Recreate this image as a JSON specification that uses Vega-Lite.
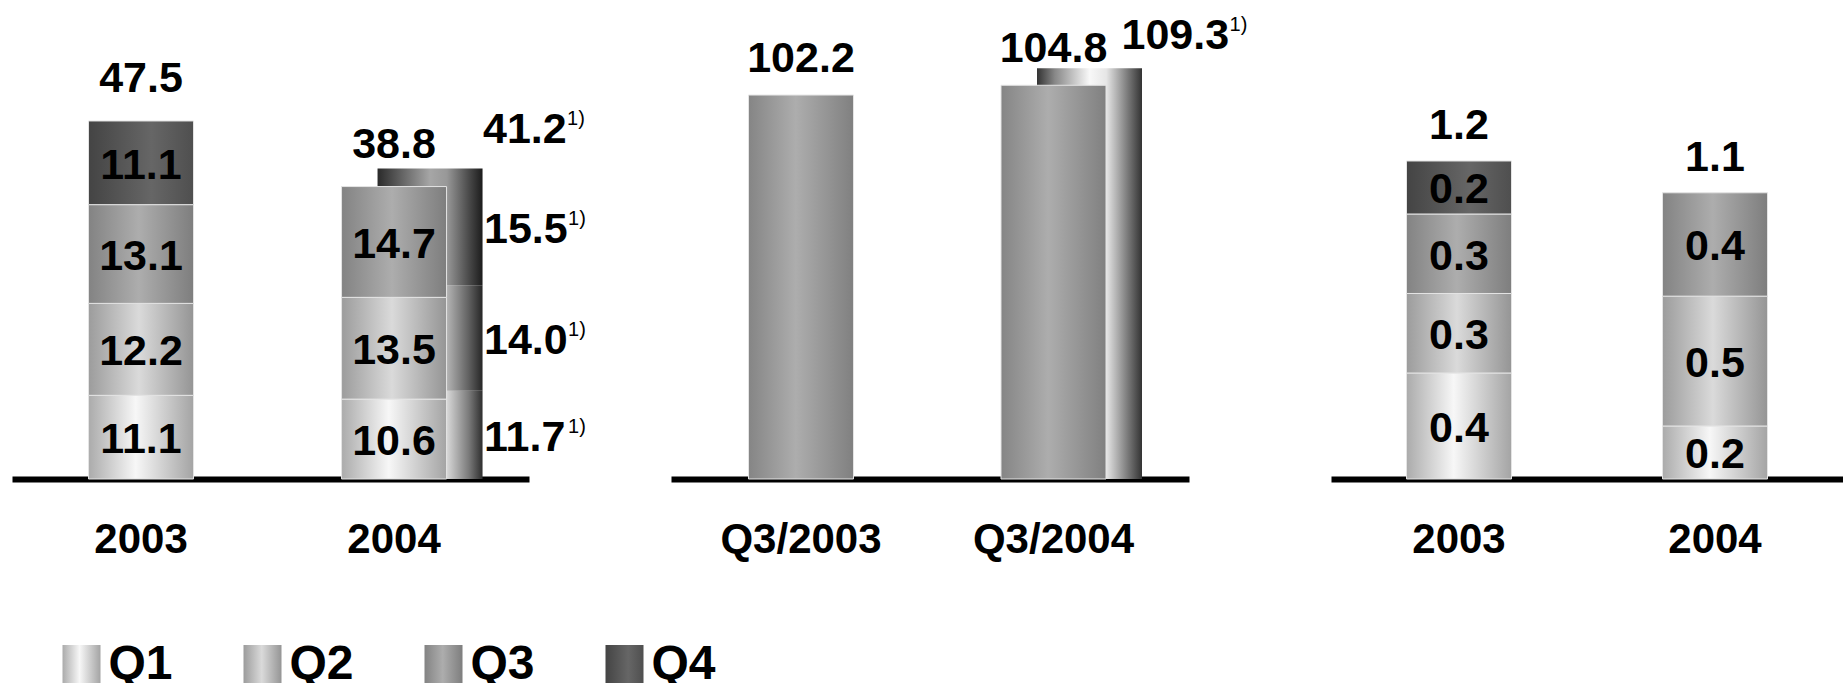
{
  "$schema": "https://vega.github.io/schema/vega-lite/v6.json",
  "background": "white",
  "padding": {"left": 12, "top": 0, "right": 0, "bottom": 0},
  "columns": 3,
  "align": "none",
  "bounds": "flush",
  "spacing": {"row": 166, "column": 142},
  "datasets": {
    "sales": [
      {"year": "2003", "basis": "reported", "quarter": "Q1", "value": 11.1},
      {"year": "2003", "basis": "reported", "quarter": "Q2", "value": 12.2},
      {"year": "2003", "basis": "reported", "quarter": "Q3", "value": 13.1},
      {"year": "2003", "basis": "reported", "quarter": "Q4", "value": 11.1},
      {"year": "2004", "basis": "reported", "quarter": "Q1", "value": 10.6},
      {"year": "2004", "basis": "reported", "quarter": "Q2", "value": 13.5},
      {"year": "2004", "basis": "reported", "quarter": "Q3", "value": 14.7},
      {"year": "2004", "basis": "adjusted", "quarter": "Q1", "value": 11.7},
      {"year": "2004", "basis": "adjusted", "quarter": "Q2", "value": 14.0},
      {"year": "2004", "basis": "adjusted", "quarter": "Q3", "value": 15.5}
    ],
    "quarterly": [
      {"period": "Q3/2003", "basis": "reported", "value": 102.2},
      {"period": "Q3/2004", "basis": "reported", "value": 104.8},
      {"period": "Q3/2004", "basis": "adjusted", "value": 109.3}
    ],
    "small": [
      {"year": "2003", "quarter": "Q1", "value": 0.4},
      {"year": "2003", "quarter": "Q2", "value": 0.3},
      {"year": "2003", "quarter": "Q3", "value": 0.3},
      {"year": "2003", "quarter": "Q4", "value": 0.2},
      {"year": "2004", "quarter": "Q1", "value": 0.2},
      {"year": "2004", "quarter": "Q2", "value": 0.49},
      {"year": "2004", "quarter": "Q3", "value": 0.39}
    ],
    "quarters": [
      {"quarter": "Q1"}, {"quarter": "Q2"}, {"quarter": "Q3"}, {"quarter": "Q4"}
    ]
  },
  "concat": [
    {
      "width": 517,
      "height": 479,
      "data": {"name": "sales"},
      "encoding": {
        "x": {"field": "year", "type": "nominal", "title": null,
              "scale": {"domain": ["2003", "2004"], "paddingInner": 0, "paddingOuter": 0.0217, "align": 0.23}}
      },
      "layer": [
        {
          "transform": [{"filter": "datum.basis === 'adjusted'"}],
          "mark": {"type": "bar", "width": 105, "xOffset": 36},
          "encoding": {
            "y": {"field": "value", "type": "quantitative", "stack": "zero", "axis": null,
                  "scale": {"domain": [0, 63.55], "nice": false}},
            "detail": {"field": "quarter"},
            "order": {"field": "quarter", "type": "ordinal"},
            "fill": {
              "condition": [
                {"test": "datum.quarter === 'Q1'", "value": {"gradient": "linear", "x1": 0, "y1": 0, "x2": 1, "y2": 0,
                  "stops": [{"offset": 0, "color": "#3a3a3a"}, {"offset": 0.5, "color": "#e6e6e6"}, {"offset": 0.66, "color": "#d8d8d8"}, {"offset": 0.87, "color": "#7a7a7a"}, {"offset": 1, "color": "#2e2e2e"}]}},
                {"test": "datum.quarter === 'Q2'", "value": {"gradient": "linear", "x1": 0, "y1": 0, "x2": 1, "y2": 0,
                  "stops": [{"offset": 0, "color": "#333333"}, {"offset": 0.5, "color": "#c2c2c2"}, {"offset": 0.66, "color": "#b4b4b4"}, {"offset": 0.87, "color": "#606060"}, {"offset": 1, "color": "#262626"}]}}
              ],
              "value": {"gradient": "linear", "x1": 0, "y1": 0, "x2": 1, "y2": 0,
                "stops": [{"offset": 0, "color": "#2a2a2a"}, {"offset": 0.5, "color": "#a6a6a6"}, {"offset": 0.66, "color": "#989898"}, {"offset": 0.87, "color": "#4a4a4a"}, {"offset": 1, "color": "#1c1c1c"}]}
            }
          }
        },
        {
          "transform": [{"filter": "datum.basis === 'reported'"}],
          "mark": {"type": "bar", "width": 105, "stroke": "#e4e4e4", "strokeWidth": 1},
          "encoding": {
            "y": {"field": "value", "type": "quantitative", "stack": "zero", "axis": null},
            "detail": {"field": "quarter"},
            "order": {"field": "quarter", "type": "ordinal"},
            "fill": {
              "condition": [
                {"test": "datum.quarter === 'Q1'", "value": {"gradient": "linear", "x1": 0, "y1": 0, "x2": 1, "y2": 0,
                  "stops": [{"offset": 0, "color": "#ababab"}, {"offset": 0.45, "color": "#f7f7f7"}, {"offset": 1, "color": "#a4a4a4"}]}},
                {"test": "datum.quarter === 'Q2'", "value": {"gradient": "linear", "x1": 0, "y1": 0, "x2": 1, "y2": 0,
                  "stops": [{"offset": 0, "color": "#9c9c9c"}, {"offset": 0.48, "color": "#dadada"}, {"offset": 1, "color": "#959595"}]}},
                {"test": "datum.quarter === 'Q3'", "value": {"gradient": "linear", "x1": 0, "y1": 0, "x2": 1, "y2": 0,
                  "stops": [{"offset": 0, "color": "#838383"}, {"offset": 0.48, "color": "#adadad"}, {"offset": 1, "color": "#7e7e7e"}]}}
              ],
              "value": {"gradient": "linear", "x1": 0, "y1": 0, "x2": 1, "y2": 0,
                "stops": [{"offset": 0, "color": "#444444"}, {"offset": 0.6, "color": "#666666"}, {"offset": 1, "color": "#4f4f4f"}]}
            }
          }
        },
        {
          "transform": [
            {"filter": "datum.basis === 'reported'"},
            {"stack": "value", "groupby": ["year"], "sort": [{"field": "quarter", "order": "ascending"}], "as": ["v0", "v1"]},
            {"fold": ["v0", "v1"], "as": ["edge", "pos"]}
          ],
          "mark": {"type": "text", "baseline": "middle", "dy": 3},
          "encoding": {
            "y": {"aggregate": "mean", "field": "pos", "type": "quantitative", "axis": null},
            "text": {"field": "value", "type": "quantitative", "format": ".1f"},
            "detail": {"field": "quarter"}
          }
        },
        {
          "transform": [
            {"filter": "datum.basis === 'adjusted'"},
            {"stack": "value", "groupby": ["year"], "sort": [{"field": "quarter", "order": "ascending"}], "as": ["v0", "v1"]},
            {"fold": ["v0", "v1"], "as": ["edge", "pos"]}
          ],
          "mark": {"type": "text", "baseline": "middle", "align": "left", "xOffset": 36, "dx": 54, "dy": 3},
          "encoding": {
            "y": {"aggregate": "mean", "field": "pos", "type": "quantitative", "axis": null},
            "text": {"field": "value", "type": "quantitative", "format": ".1f"},
            "detail": {"field": "quarter"}
          }
        },
        {
          "transform": [
            {"filter": "datum.basis === 'adjusted'"},
            {"stack": "value", "groupby": ["year"], "sort": [{"field": "quarter", "order": "ascending"}], "as": ["v0", "v1"]},
            {"fold": ["v0", "v1"], "as": ["edge", "pos"]}
          ],
          "mark": {"type": "text", "baseline": "top", "align": "left", "xOffset": 36, "dx": 138, "dy": -18, "fontSize": 20, "fontWeight": "normal"},
          "encoding": {
            "y": {"aggregate": "mean", "field": "pos", "type": "quantitative", "axis": null},
            "text": {"value": "1)"},
            "detail": {"field": "quarter"}
          }
        },
        {
          "transform": [{"filter": "datum.basis === 'reported'"}],
          "mark": {"type": "text", "baseline": "middle", "dy": -42},
          "encoding": {
            "y": {"aggregate": "sum", "field": "value", "type": "quantitative", "axis": null},
            "text": {"aggregate": "sum", "field": "value", "type": "quantitative", "format": ".1f"}
          }
        },
        {
          "transform": [{"filter": "datum.basis === 'adjusted'"}],
          "mark": {"type": "text", "baseline": "middle", "align": "left", "xOffset": 36, "dx": 53, "dy": -38},
          "encoding": {
            "y": {"aggregate": "sum", "field": "value", "type": "quantitative", "axis": null},
            "text": {"aggregate": "sum", "field": "value", "type": "quantitative", "format": ".1f"}
          }
        },
        {
          "transform": [{"filter": "datum.basis === 'adjusted'"}],
          "mark": {"type": "text", "baseline": "top", "align": "left", "xOffset": 36, "dx": 137, "dy": -59, "fontSize": 20, "fontWeight": "normal"},
          "encoding": {
            "y": {"aggregate": "sum", "field": "value", "type": "quantitative", "axis": null},
            "text": {"value": "1)"}
          }
        }
      ]
    },
    {
      "width": 518,
      "height": 479,
      "data": {"name": "quarterly"},
      "encoding": {
        "x": {"field": "period", "type": "nominal", "title": null,
              "scale": {"domain": ["Q3/2003", "Q3/2004"], "paddingInner": 0, "paddingOuter": 0.0257, "align": 0.288}}
      },
      "layer": [
        {
          "transform": [{"filter": "datum.basis === 'adjusted'"}],
          "mark": {"type": "bar", "width": 105, "xOffset": 36},
          "encoding": {
            "y": {"field": "value", "type": "quantitative", "axis": null,
                  "scale": {"domain": [0, 127.5], "nice": false}},
            "fill": {"value": {"gradient": "linear", "x1": 0, "y1": 0, "x2": 1, "y2": 0,
              "stops": [{"offset": 0, "color": "#333333"}, {"offset": 0.17, "color": "#888888"}, {"offset": 0.5, "color": "#f8f8f8"}, {"offset": 0.66, "color": "#e6e6e6"}, {"offset": 0.87, "color": "#777777"}, {"offset": 1, "color": "#333333"}]}}
          }
        },
        {
          "transform": [{"filter": "datum.basis === 'reported'"}],
          "mark": {"type": "bar", "width": 105, "stroke": "#e4e4e4", "strokeWidth": 1},
          "encoding": {
            "y": {"field": "value", "type": "quantitative", "axis": null},
            "fill": {"value": {"gradient": "linear", "x1": 0, "y1": 0, "x2": 1, "y2": 0,
              "stops": [{"offset": 0, "color": "#858585"}, {"offset": 0.45, "color": "#adadad"}, {"offset": 1, "color": "#808080"}]}}
          }
        },
        {
          "transform": [{"filter": "datum.basis === 'reported'"}],
          "mark": {"type": "text", "baseline": "middle", "dy": -36},
          "encoding": {
            "y": {"field": "value", "type": "quantitative", "axis": null},
            "text": {"field": "value", "type": "quantitative", "format": ".1f"}
          }
        },
        {
          "transform": [{"filter": "datum.basis === 'adjusted'"}],
          "mark": {"type": "text", "baseline": "middle", "align": "left", "xOffset": 36, "dx": 32, "dy": -32},
          "encoding": {
            "y": {"field": "value", "type": "quantitative", "axis": null},
            "text": {"field": "value", "type": "quantitative", "format": ".1f"}
          }
        },
        {
          "transform": [{"filter": "datum.basis === 'adjusted'"}],
          "mark": {"type": "text", "baseline": "top", "align": "left", "xOffset": 36, "dx": 140, "dy": -53, "fontSize": 20, "fontWeight": "normal"},
          "encoding": {
            "y": {"field": "value", "type": "quantitative", "axis": null},
            "text": {"value": "1)"}
          }
        }
      ]
    },
    {
      "width": 512,
      "height": 479,
      "data": {"name": "small"},
      "encoding": {
        "x": {"field": "year", "type": "nominal", "title": null,
              "scale": {"domain": ["2003", "2004"], "paddingInner": 0, "paddingOuter": 0}}
      },
      "layer": [
        {
          "mark": {"type": "bar", "width": 105, "stroke": "#e4e4e4", "strokeWidth": 1},
          "encoding": {
            "y": {"field": "value", "type": "quantitative", "stack": "zero", "axis": null,
                  "scale": {"domain": [0, 1.8075], "nice": false}},
            "detail": {"field": "quarter"},
            "order": {"field": "quarter", "type": "ordinal"},
            "fill": {
              "condition": [
                {"test": "datum.quarter === 'Q1'", "value": {"gradient": "linear", "x1": 0, "y1": 0, "x2": 1, "y2": 0,
                  "stops": [{"offset": 0, "color": "#ababab"}, {"offset": 0.45, "color": "#f7f7f7"}, {"offset": 1, "color": "#a4a4a4"}]}},
                {"test": "datum.quarter === 'Q2'", "value": {"gradient": "linear", "x1": 0, "y1": 0, "x2": 1, "y2": 0,
                  "stops": [{"offset": 0, "color": "#9c9c9c"}, {"offset": 0.48, "color": "#dadada"}, {"offset": 1, "color": "#959595"}]}},
                {"test": "datum.quarter === 'Q3'", "value": {"gradient": "linear", "x1": 0, "y1": 0, "x2": 1, "y2": 0,
                  "stops": [{"offset": 0, "color": "#838383"}, {"offset": 0.48, "color": "#adadad"}, {"offset": 1, "color": "#7e7e7e"}]}}
              ],
              "value": {"gradient": "linear", "x1": 0, "y1": 0, "x2": 1, "y2": 0,
                "stops": [{"offset": 0, "color": "#444444"}, {"offset": 0.6, "color": "#666666"}, {"offset": 1, "color": "#4f4f4f"}]}
            }
          }
        },
        {
          "transform": [
            {"stack": "value", "groupby": ["year"], "sort": [{"field": "quarter", "order": "ascending"}], "as": ["v0", "v1"]},
            {"fold": ["v0", "v1"], "as": ["edge", "pos"]}
          ],
          "mark": {"type": "text", "baseline": "middle", "dy": 3},
          "encoding": {
            "y": {"aggregate": "mean", "field": "pos", "type": "quantitative", "axis": null},
            "text": {"field": "value", "type": "quantitative", "format": ".1f"},
            "detail": {"field": "quarter"}
          }
        },
        {
          "mark": {"type": "text", "baseline": "middle", "dy": -35},
          "encoding": {
            "y": {"aggregate": "sum", "field": "value", "type": "quantitative", "axis": null},
            "text": {"aggregate": "sum", "field": "value", "type": "quantitative", "format": ".1f"}
          }
        }
      ]
    },
    {
      "width": 500,
      "height": 40,
      "data": {"name": "quarters"},
      "encoding": {
        "x": {"field": "quarter", "type": "nominal", "axis": null,
              "scale": {"domain": ["Q1", "Q2", "Q3", "Q4"], "range": [0, 724], "paddingInner": 0, "paddingOuter": 0}}
      },
      "layer": [
        {
          "mark": {"type": "bar", "width": 38, "xOffset": -21},
          "encoding": {
            "fill": {
              "condition": [
                {"test": "datum.quarter === 'Q1'", "value": {"gradient": "linear", "x1": 0, "y1": 0, "x2": 1, "y2": 0,
                  "stops": [{"offset": 0, "color": "#ababab"}, {"offset": 0.45, "color": "#f7f7f7"}, {"offset": 1, "color": "#a4a4a4"}]}},
                {"test": "datum.quarter === 'Q2'", "value": {"gradient": "linear", "x1": 0, "y1": 0, "x2": 1, "y2": 0,
                  "stops": [{"offset": 0, "color": "#9c9c9c"}, {"offset": 0.48, "color": "#dadada"}, {"offset": 1, "color": "#959595"}]}},
                {"test": "datum.quarter === 'Q3'", "value": {"gradient": "linear", "x1": 0, "y1": 0, "x2": 1, "y2": 0,
                  "stops": [{"offset": 0, "color": "#838383"}, {"offset": 0.48, "color": "#adadad"}, {"offset": 1, "color": "#7e7e7e"}]}}
              ],
              "value": {"gradient": "linear", "x1": 0, "y1": 0, "x2": 1, "y2": 0,
                "stops": [{"offset": 0, "color": "#444444"}, {"offset": 0.6, "color": "#666666"}, {"offset": 1, "color": "#4f4f4f"}]}
            }
          }
        },
        {
          "mark": {"type": "text", "align": "left", "baseline": "middle", "fontSize": 48, "xOffset": -21, "dx": 27},
          "encoding": {
            "text": {"field": "quarter", "type": "nominal"}
          }
        }
      ]
    }
  ],
  "config": {
    "view": {"stroke": null},
    "font": "Liberation Sans",
    "text": {"font": "Liberation Sans", "fontSize": 43, "fontWeight": "bold", "color": "black"},
    "axisX": {
      "domainColor": "black",
      "domainWidth": 6,
      "ticks": false,
      "tickSize": 0,
      "grid": false,
      "labelAngle": 0,
      "labelFont": "Liberation Sans",
      "labelFontSize": 42,
      "labelFontWeight": "bold",
      "labelColor": "black",
      "labelPadding": 40,
      "labelLimit": 300
    }
  }
}
